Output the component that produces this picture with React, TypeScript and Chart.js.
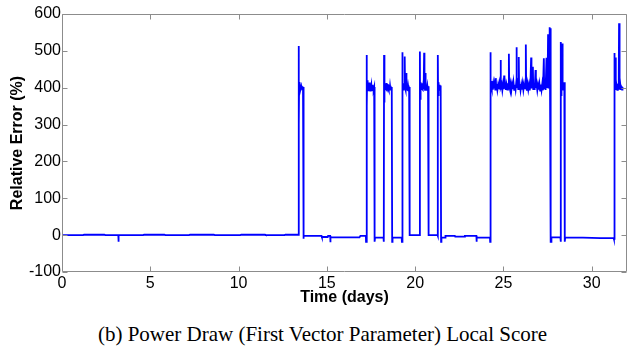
import React, { useEffect, useRef } from "react";
import { Chart, registerables } from "chart.js";

Chart.register(...registerables);

// ---- data: [time (days), relative error (%)] ----
const quiet1: [number, number][] = [
  [0, 0], [1.2, 0], [1.25, 1], [2.4, 1], [2.45, 0], [3.19, 0], [3.2, -18], [3.21, 0],
  [4.6, 0], [4.65, 1], [5.8, 1], [5.85, 0], [7.2, 0], [7.25, 1], [8.6, 1], [8.65, 0],
  [10.1, 0], [10.15, 1], [11.5, 1], [11.55, 0], [12.6, 0], [12.65, 1], [13.39, 1],
];
const burst1: [number, number][] = [
  [13.40, 1], [13.41, 513], [13.42, 300], [13.43, 415], [13.45, 398], [13.47, 410], [13.49, 395],
  [13.51, 406], [13.53, 398], [13.55, 404], [13.57, 395], [13.59, 405], [13.61, 397], [13.63, 403],
  [13.65, 395], [13.67, 402], [13.68, -10],
];
const quiet2: [number, number][] = [
  [13.70, -2], [14.70, -2], [14.72, -5], [15.05, -5], [15.07, -2], [15.19, -2], [15.2, -19],
  [15.21, -6], [16.85, -6], [16.9, -2], [17.21, -2], [17.22, -18], [17.25, -18],
];
const burst2: [number, number][] = [
  [17.26, 489], [17.27, 350], [17.28, 420], [17.30, 398], [17.32, 412], [17.34, 393], [17.36, 410],
  [17.38, 396], [17.40, 414], [17.42, 393], [17.44, 408], [17.46, 392], [17.48, 410], [17.50, 396],
  [17.52, 406], [17.54, 391], [17.56, 408], [17.58, 395], [17.60, 405], [17.62, 393], [17.64, 404],
  [17.66, 396], [17.68, 402], [17.70, 398], [17.71, -18],
];
const quiet3: [number, number][] = [[17.73, -7], [18.21, -7], [18.22, -18], [18.23, -18]];
const burst3: [number, number][] = [
  [18.24, 489], [18.25, 360], [18.26, 418], [18.28, 396], [18.30, 412], [18.32, 393], [18.34, 410],
  [18.36, 396], [18.38, 413], [18.40, 394], [18.42, 408], [18.44, 392], [18.46, 410], [18.48, 396],
  [18.50, 406], [18.52, 392], [18.54, 408], [18.56, 395], [18.58, 405], [18.60, 393], [18.62, 404],
  [18.64, 396], [18.66, 402], [18.68, 398], [18.69, 400], [18.70, -18],
];
const quiet4: [number, number][] = [[18.72, -7], [19.24, -7], [19.25, -18], [19.26, -18]];
const burst4: [number, number][] = [
  [19.27, 496], [19.28, 380], [19.30, 412], [19.32, 395], [19.34, 410], [19.36, 397], [19.38, 412],
  [19.40, 396], [19.42, 485], [19.43, 400], [19.45, 412], [19.47, 394], [19.49, 440], [19.50, 398],
  [19.52, 410], [19.54, 395], [19.56, 408], [19.58, 394], [19.60, 406], [19.62, 396], [19.64, 405],
  [19.66, 395], [19.68, 402], [19.69, 398], [19.70, 0],
];
const quiet5: [number, number][] = [[19.72, 0], [20.26, 0]];
const burst5: [number, number][] = [
  [20.27, 498], [20.28, 370], [20.30, 415], [20.32, 396], [20.34, 410], [20.36, 394], [20.38, 412],
  [20.40, 397], [20.42, 410], [20.44, 395], [20.46, 408], [20.48, 396], [20.50, 420], [20.51, 495],
  [20.52, 400], [20.54, 410], [20.56, 394], [20.58, 440], [20.59, 398], [20.61, 408], [20.63, 394],
  [20.65, 406], [20.67, 395], [20.69, 405], [20.71, 396], [20.73, 404], [20.75, 398], [20.76, 0],
];
const quiet6: [number, number][] = [[20.78, 0], [21.27, 0], [21.28, -2]];
const burst6: [number, number][] = [
  [21.29, 489], [21.30, 380], [21.31, 415], [21.33, 396], [21.35, 410], [21.37, 394], [21.39, 408],
  [21.41, 395], [21.43, 406], [21.45, 396], [21.46, 403], [21.47, -18],
];
const quiet7: [number, number][] = [
  [21.49, -7], [21.70, -7], [21.72, -2], [22.25, -2], [22.27, -4], [22.80, -4], [22.82, -2],
  [23.47, -2], [23.48, -18], [23.49, -7], [24.24, -7], [24.25, -18], [24.26, -18],
];
const burst7: [number, number][] = [
  [24.27, 496], [24.29, 420], [24.31, 405], [24.33, 418], [24.35, 398], [24.37, 412], [24.40, 395],
  [24.43, 410], [24.46, 398], [24.50, 412], [24.54, 395], [24.57, 426], [24.59, 400], [24.62, 410],
  [24.66, 394], [24.70, 408], [24.74, 396], [24.78, 412], [24.82, 397], [24.84, 475], [24.86, 402],
  [24.90, 410], [24.94, 393], [24.98, 409], [25.02, 396], [25.04, 433], [25.06, 398], [25.10, 411],
  [25.14, 394], [25.18, 408], [25.22, 395], [25.26, 412], [25.29, 398], [25.31, 492], [25.33, 405],
  [25.37, 396], [25.41, 410], [25.45, 393], [25.49, 409], [25.53, 396], [25.57, 414], [25.61, 394],
  [25.65, 408], [25.69, 395], [25.72, 410], [25.74, 510], [25.76, 400], [25.80, 412], [25.84, 396],
  [25.87, 483], [25.89, 402], [25.93, 410], [25.97, 393], [26.01, 408], [26.05, 395], [26.09, 411],
  [26.13, 394], [26.17, 409], [26.21, 396], [26.25, 410], [26.27, 517], [26.29, 402], [26.33, 392],
  [26.37, 410], [26.41, 395], [26.45, 408], [26.49, 393], [26.53, 410], [26.57, 482], [26.59, 398],
  [26.63, 408], [26.67, 457], [26.69, 396], [26.73, 410], [26.77, 394], [26.82, 448], [26.84, 400],
  [26.88, 410], [26.92, 393], [26.96, 408], [27.00, 395], [27.04, 410], [27.08, 392], [27.12, 409],
  [27.16, 394], [27.20, 410], [27.24, 393], [27.29, 480], [27.31, 398], [27.35, 410], [27.39, 394],
  [27.44, 481], [27.46, 400], [27.50, 410], [27.53, 545], [27.55, 398], [27.59, 412], [27.62, 564],
  [27.64, 402], [27.66, 398], [27.68, 561], [27.69, -18],
];
const quiet8: [number, number][] = [[27.70, -18], [27.72, -6], [28.23, -6], [28.24, -18], [28.25, -18]];
const burst8: [number, number][] = [
  [28.26, 524], [28.27, 380], [28.28, 410], [28.30, 396], [28.32, 412], [28.34, 520], [28.35, 398],
  [28.37, 408], [28.39, 395], [28.41, 405], [28.43, 396], [28.45, 415], [28.47, 398], [28.48, -18],
];
const quiet9: [number, number][] = [
  [28.50, -6], [29.5, -7], [30.5, -8], [31.25, -8], [31.26, -10], [31.27, -10],
];
const burst9: [number, number][] = [
  [31.28, 494], [31.29, 380], [31.31, 412], [31.33, 396], [31.36, 482], [31.37, 402], [31.39, 410],
  [31.41, 395], [31.43, 408], [31.45, 394], [31.47, 406], [31.49, 396], [31.51, 412], [31.53, 398],
  [31.55, 575], [31.56, 420], [31.58, 412], [31.60, 395], [31.62, 408], [31.64, 394], [31.66, 406],
  [31.68, 396], [31.70, 404], [31.72, 395], [31.74, 402], [31.75, 400],
];

const xTickValues = [0, 5, 10, 15, 20, 25, 30];
const yTickValues = [-100, 0, 100, 200, 300, 400, 500, 600];

const series = [
  ...quiet1, ...burst1, ...quiet2, ...burst2, ...quiet3, ...burst3, ...quiet4, ...burst4,
  ...quiet5, ...burst5, ...quiet6, ...burst6, ...quiet7, ...burst7, ...quiet8, ...burst8,
  ...quiet9, ...burst9,
];

const boxColor = "#8c8c8c";

const matlabBox = {
  id: "matlabBox",
  afterDatasetsDraw(chart: any) {
    const { ctx, chartArea: a, scales } = chart;
    const xs = scales.x;
    const ys = scales.y;
    const L = Math.round(a.left) + 0.5;
    const R = Math.round(a.right) - 0.5;
    const T = Math.round(a.top) + 0.5;
    const B = Math.round(a.bottom) - 0.5;
    ctx.save();
    ctx.strokeStyle = boxColor;
    ctx.lineWidth = 1;
    ctx.beginPath();
    ctx.moveTo(L, T);
    ctx.lineTo(R, T);
    ctx.lineTo(R, B);
    ctx.lineTo(L, B);
    ctx.closePath();
    for (const v of xTickValues) {
      const px = Math.round(xs.getPixelForValue(v)) + 0.5;
      ctx.moveTo(px, B);
      ctx.lineTo(px, B - 5);
      ctx.moveTo(px, T);
      ctx.lineTo(px, T + 5);
    }
    for (const v of yTickValues) {
      const py = Math.round(ys.getPixelForValue(v)) + 0.5;
      ctx.moveTo(L, py);
      ctx.lineTo(L + 5, py);
      ctx.moveTo(R, py);
      ctx.lineTo(R - 5, py);
    }
    ctx.stroke();
    ctx.restore();
  },
};

export default function App() {
  const ref = useRef<HTMLCanvasElement>(null);
  useEffect(() => {
    const chart = new Chart(ref.current!, {
      type: "line",
      data: {
        datasets: [
          {
            data: series.map(([t, v]) => ({ x: t, y: v })),
            borderColor: "#0000ff",
            borderWidth: 1.8,
            pointRadius: 0,
            tension: 0,
            fill: false,
          },
        ],
      },
      options: {
        responsive: false,
        animation: false,
        devicePixelRatio: 1,
        layout: { padding: { left: 0, right: 2, top: 14, bottom: 0 } },
        plugins: { legend: { display: false }, tooltip: { enabled: false }, title: { display: false } },
        scales: {
          x: {
            type: "linear",
            min: 0,
            max: 32,
            grid: { display: false, drawTicks: false },
            border: { display: false },
            afterBuildTicks: (s: any) => {
              s.ticks = xTickValues.map((v) => ({ value: v }));
            },
            afterFit: (s: any) => {
              s.height = 38;
            },
            ticks: {
              font: { family: "'Liberation Sans', Arial, sans-serif", size: 16 },
              color: "#000",
              padding: 2,
              maxRotation: 0,
            },
            title: {
              display: true,
              text: "Time (days)",
              color: "#000",
              font: { family: "'Liberation Sans', Arial, sans-serif", size: 16, weight: "bold" },
              padding: { top: 0, bottom: 3 },
            },
          },
          y: {
            type: "linear",
            min: -100,
            max: 600,
            grid: { display: false, drawTicks: false },
            border: { display: false },
            afterBuildTicks: (s: any) => {
              s.ticks = yTickValues.map((v) => ({ value: v }));
            },
            afterFit: (s: any) => {
              s.width = 62;
            },
            ticks: {
              font: { family: "'Liberation Sans', Arial, sans-serif", size: 16 },
              color: "#000",
              padding: 1,
            },
            title: {
              display: true,
              text: "Relative Error (%)",
              color: "#000",
              font: { family: "'Liberation Sans', Arial, sans-serif", size: 16, weight: "bold" },
              padding: { top: 8, bottom: 0 },
            },
          },
        },
      },
      plugins: [matlabBox],
    } as any);
    return () => chart.destroy();
  }, []);

  return (
    <div
      style={{
        position: "absolute",
        left: 0,
        top: 0,
        width: 629,
        height: 348,
        overflow: "hidden",
        background: "#fff",
      }}
    >
      <canvas
        ref={ref}
        width={629}
        height={310}
        style={{ position: "absolute", left: 0, top: 0, width: 629, height: 310 }}
      />
      <div
        style={{
          position: "absolute",
          left: 0,
          top: 324,
          width: 629,
          boxSizing: "border-box",
          paddingLeft: 16,
          textAlign: "center",
          fontFamily: "'Liberation Serif', 'Times New Roman', serif",
          fontSize: 21,
          lineHeight: "21px",
          color: "#000",
          whiteSpace: "nowrap",
        }}
      >
        (b) Power Draw (First Vector Parameter) Local Score
      </div>
    </div>
  );
}
